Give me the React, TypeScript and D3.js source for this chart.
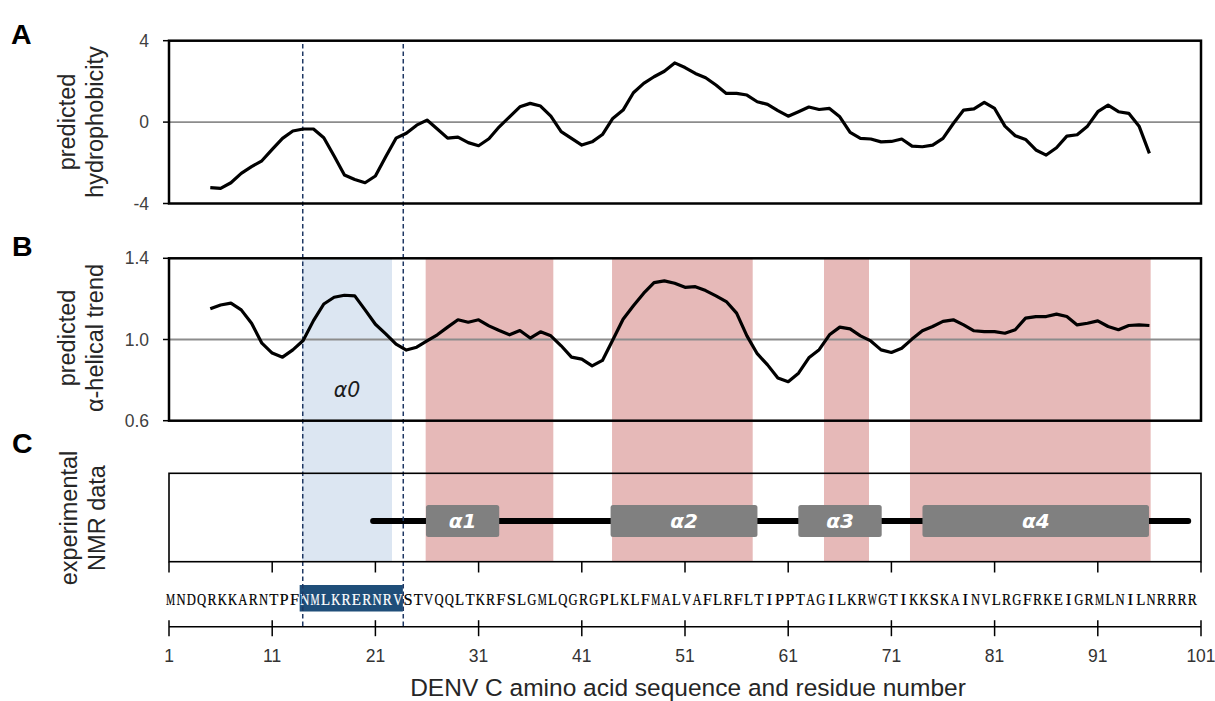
import React, { useMemo } from "react";
import * as d3 from "d3";

// ---------------- data ----------------
const residues = d3.range(5, 97); // residues 5..96 (window-averaged profiles)

const hydrophobicity = [
  -3.22, -3.26, -2.98, -2.52, -2.19, -1.9, -1.34, -0.8, -0.44, -0.34,
  -0.34, -0.77, -1.67, -2.6, -2.82, -2.98, -2.65, -1.7, -0.79, -0.55,
  -0.15, 0.1, -0.34, -0.79, -0.74, -1.01, -1.16, -0.82, -0.23, 0.26,
  0.75, 0.92, 0.79, 0.29, -0.47, -0.8, -1.13, -0.97, -0.61, 0.18,
  0.59, 1.44, 1.9, 2.23, 2.5, 2.91, 2.68, 2.39, 2.18, 1.82,
  1.41, 1.41, 1.33, 1.0, 0.87, 0.56, 0.29, 0.51, 0.74, 0.62,
  0.67, 0.26, -0.51, -0.8, -0.83, -0.97, -0.95, -0.83, -1.18, -1.21,
  -1.13, -0.8, -0.07, 0.59, 0.65, 0.97, 0.67, -0.2, -0.67, -0.85,
  -1.37, -1.62, -1.26, -0.69, -0.62, -0.2, 0.51, 0.83, 0.51, 0.43,
  -0.2, -1.54,
];

const helicalTrend = [
  1.151, 1.17, 1.179, 1.146, 1.08, 0.982, 0.933, 0.913, 0.949, 0.995,
  1.093, 1.175, 1.208, 1.218, 1.215, 1.146, 1.075, 1.028, 0.977, 0.948,
  0.962, 0.993, 1.023, 1.061, 1.097, 1.085, 1.097, 1.067, 1.044, 1.023,
  1.044, 1.007, 1.038, 1.018, 0.969, 0.913, 0.903, 0.87, 0.897, 0.998,
  1.1, 1.166, 1.228, 1.28, 1.289, 1.277, 1.257, 1.26, 1.241, 1.215,
  1.187, 1.13, 1.018, 0.93, 0.875, 0.81, 0.792, 0.834, 0.91, 0.95,
  1.023, 1.061, 1.052, 1.018, 0.993, 0.949, 0.936, 0.957, 1.002, 1.043,
  1.064, 1.089, 1.097, 1.072, 1.043, 1.039, 1.039, 1.031, 1.048, 1.105,
  1.113, 1.113, 1.125, 1.113, 1.072, 1.08, 1.092, 1.064, 1.048, 1.069,
  1.072, 1.069,
];

const sequence =
  "MNDQRKKARNTPFNMLKRERNRVSTVQQLTKRFSLGMLQGRGPLKLFMALVAFLRFLTIPPTAGILKRWGTIKKSKAINVLRGFRKEIGRMLNILNRRRR";

const residueTicks = [1, 11, 21, 31, 41, 51, 61, 71, 81, 91, 101];
const hydroTicks = [4, 0, -4];
const hydroTickLabels = ["4", "0", "-4"];
const helicalTicks = [1.4, 1.0, 0.6];
const helicalTickLabels = ["1.4", "1.0", "0.6"];

const alpha0Band: [number, number] = [13.89, 22.61];
const predictedBands: [number, number][] = [
  [25.87, 38.24],
  [43.93, 57.56],
  [64.47, 68.83],
  [72.8, 96.12],
];
const nmrHelices: [number, number][] = [
  [25.9, 33.0],
  [43.79, 58.02],
  [61.98, 70.06],
  [74.01, 95.96],
];
const nmrHelixNames = ["α1", "α2", "α3", "α4"];
const nmrBackbone: [number, number] = [20.77, 99.77];
const highlightRange: [number, number] = [14, 23];
const dashedResidues = [13.96, 23.7];

// ---------------- layout ----------------
const W = 1215;
const H = 701;
const X0 = 169;
const X1 = 1201;
const A_TOP = 40.7;
const A_BOT = 203.5;
const B_TOP = 258.3;
const B_BOT = 420.7;
const C_TOP = 473.3;
const C_BOT = 561.7;
const SEQ_Y = 604.5;
const AXIS_Y = 626.7;

const SANS = '"Liberation Sans", Arial, sans-serif';
const SERIF = '"Liberation Serif", "Times New Roman", serif';
const SEQ_FONT_SIZE = 17;

export default function App() {
  const x = d3.scaleLinear().domain([1, 101]).range([X0, X1]);
  const yA = d3.scaleLinear().domain([-4, 4]).range([A_BOT, A_TOP]);
  const yB = d3.scaleLinear().domain([0.6, 1.4]).range([B_BOT, B_TOP]);
  const step = x(2) - x(1);
  const cellStart = (i: number) => x(i) - 3.5;
  const cellCenter = (i: number) => cellStart(i) + step / 2;
  const maxW = step - 1.2;

  const lineA = d3
    .line<number>()
    .x((_, i) => x(residues[i]))
    .y((d) => yA(d))(hydrophobicity) as string;
  const lineB = d3
    .line<number>()
    .x((_, i) => x(residues[i]))
    .y((d) => yB(d))(helicalTrend) as string;

  const widths = useMemo(() => {
    const c = document.createElement("canvas").getContext("2d");
    if (!c) return sequence.split("").map(() => 9);
    c.font = `${SEQ_FONT_SIZE}px "Liberation Serif"`;
    return sequence.split("").map((ch) => c.measureText(ch).width);
  }, []);

  const yTickColor = "#404040";
  const labelColor = "#262626";
  const helixFont = '"DejaVu Sans", Verdana, sans-serif';

  return (
    <svg
      width={W}
      height={H}
      viewBox={`0 0 ${W} ${H}`}
      style={{ position: "absolute", left: 0, top: 0, background: "#fff" }}
    >
      <rect x={0} y={0} width={W} height={H} fill="#fff" />

      {/* shaded bands through panels B and C */}
      <rect
        x={x(alpha0Band[0])}
        y={B_TOP}
        width={x(alpha0Band[1]) - x(alpha0Band[0])}
        height={C_BOT - B_TOP}
        fill="#dce6f2"
      />
      {predictedBands.map((b, i) => (
        <rect
          key={"band" + i}
          x={x(b[0])}
          y={B_TOP}
          width={x(b[1]) - x(b[0])}
          height={C_BOT - B_TOP}
          fill="#e6b9b8"
        />
      ))}

      {/* panel letters */}
      <g fontFamily={SANS} fontWeight="bold" fontSize={28.5} fill="#000">
        <text x={11} y={44}>A</text>
        <text x={12} y={255.5}>B</text>
        <text x={12} y={452.5}>C</text>
      </g>

      {/* y labels */}
      <g fontFamily={SANS} fontSize={23.5} fill={labelColor} textAnchor="middle">
        <text transform={`translate(75,122) rotate(-90)`}>predicted</text>
        <text transform={`translate(103,122) rotate(-90)`}>hydrophobicity</text>
        <text transform={`translate(75,338) rotate(-90)`}>predicted</text>
        <text transform={`translate(103,338) rotate(-90)`}>α-helical trend</text>
        <text transform={`translate(77,518) rotate(-90)`}>experimental</text>
        <text transform={`translate(105,518) rotate(-90)`}>NMR data</text>
      </g>

      {/* Panel A */}
      <line x1={X0} x2={X1} y1={yA(0)} y2={yA(0)} stroke="#8c8c8c" strokeWidth={1.8} />
      {hydroTicks.map((t, i) => (
        <g key={"ta" + i}>
          <line x1={X0 - 6} x2={X0} y1={yA(t)} y2={yA(t)} stroke="#000" strokeWidth={1.5} />
          <text
            x={149}
            y={yA(t) + 6}
            textAnchor="end"
            fontFamily={SANS}
            fontSize={17.5}
            fill={yTickColor}
          >
            {hydroTickLabels[i]}
          </text>
        </g>
      ))}

      {/* Panel B */}
      <line x1={X0} x2={X1} y1={yB(1)} y2={yB(1)} stroke="#8c8c8c" strokeWidth={1.8} />
      {helicalTicks.map((t, i) => (
        <g key={"tb" + i}>
          <line x1={X0 - 6} x2={X0} y1={yB(t)} y2={yB(t)} stroke="#000" strokeWidth={1.5} />
          <text
            x={149}
            y={yB(t) + 6}
            textAnchor="end"
            fontFamily={SANS}
            fontSize={17.5}
            fill={yTickColor}
          >
            {helicalTickLabels[i]}
          </text>
        </g>
      ))}
      <text
        x={(x(alpha0Band[0]) + x(alpha0Band[1])) / 2}
        y={397}
        textAnchor="middle"
        fontFamily={helixFont}
        fontStyle="italic"
        fontSize={20.5}
        fill="#1a1a1a"
      >
        α0
      </text>

      {/* Panel C: NMR */}
      <line
        x1={x(nmrBackbone[0])}
        x2={x(nmrBackbone[1])}
        y1={521}
        y2={521}
        stroke="#000"
        strokeWidth={5.8}
        strokeLinecap="round"
      />
      {nmrHelices.map((h, i) => (
        <g key={"hx" + i}>
          <rect
            x={x(h[0])}
            y={505}
            width={x(h[1]) - x(h[0])}
            height={32}
            rx={2.5}
            fill="#808080"
          />
          <text
            x={(x(h[0]) + x(h[1])) / 2}
            y={528}
            textAnchor="middle"
            fontFamily={helixFont}
            fontStyle="italic"
            fontWeight="bold"
            fontSize={20}
            fill="#fff"
          >
            {nmrHelixNames[i]}
          </text>
        </g>
      ))}
      {residueTicks.map((t) => (
        <line key={"tc" + t} x1={x(t)} x2={x(t)} y1={C_BOT} y2={572.5} stroke="#000" strokeWidth={1.5} />
      ))}

      {/* sequence */}
      <rect
        x={cellStart(highlightRange[0])}
        y={585}
        width={cellStart(highlightRange[1]) + step - cellStart(highlightRange[0])}
        height={26.5}
        fill="#1f4e79"
      />
      <g fontFamily={SERIF} fontSize={SEQ_FONT_SIZE} strokeWidth={0.2}>
        {sequence.split("").map((ch, i) => {
          const r = i + 1;
          const w = widths[i];
          const inHl = r >= highlightRange[0] && r <= highlightRange[1];
          const s = w > maxW ? maxW / w : 1;
          const col = inHl ? "#fff" : "#000";
          return (
            <text
              key={"s" + i}
              transform={`translate(${cellCenter(r)},${SEQ_Y}) scale(${s},1)`}
              textAnchor="middle"
              fill={col}
              stroke={col}
            >
              {ch}
            </text>
          );
        })}
      </g>

      {/* bottom axis */}
      <line x1={x(1)} x2={x(101)} y1={AXIS_Y} y2={AXIS_Y} stroke="#000" strokeWidth={1.5} />
      {residueTicks.map((t) => (
        <g key={"bx" + t}>
          <line x1={x(t)} x2={x(t)} y1={AXIS_Y - 6.5} y2={AXIS_Y + 9.5} stroke="#000" strokeWidth={1.5} />
          <text
            x={x(t)}
            y={661.5}
            textAnchor="middle"
            fontFamily={SANS}
            fontSize={17.5}
            fill="#333"
          >
            {t}
          </text>
        </g>
      ))}
      <text
        x={688}
        y={695.5}
        textAnchor="middle"
        fontFamily={SANS}
        fontSize={24.5}
        fill={labelColor}
      >
        DENV C amino acid sequence and residue number
      </text>

      {/* dashed guide lines */}
      {dashedResidues.map((r, i) => (
        <line
          key={"dl" + i}
          x1={x(r)}
          x2={x(r)}
          y1={44}
          y2={AXIS_Y}
          stroke="#1f3864"
          strokeWidth={1.5}
          strokeDasharray="4.5 3"
        />
      ))}

      {/* data lines */}
      <path d={lineA} fill="none" stroke="#000" strokeWidth={3.2} strokeLinejoin="round" />
      <path d={lineB} fill="none" stroke="#000" strokeWidth={3.2} strokeLinejoin="round" />

      {/* panel frames */}
      <rect x={X0} y={A_TOP} width={X1 - X0} height={A_BOT - A_TOP} fill="none" stroke="#000" strokeWidth={2.5} />
      <rect x={X0} y={B_TOP} width={X1 - X0} height={B_BOT - B_TOP} fill="none" stroke="#000" strokeWidth={2.5} />
      <rect x={X0} y={C_TOP} width={X1 - X0} height={C_BOT - C_TOP} fill="none" stroke="#000" strokeWidth={1.6} />
    </svg>
  );
}
